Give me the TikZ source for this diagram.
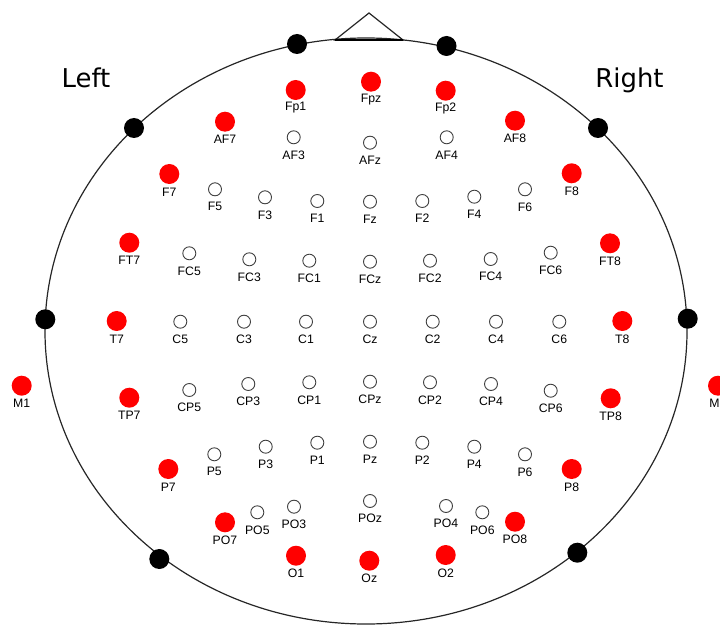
\documentclass[tikz,border=0pt]{standalone}
\usepackage{fontspec}
\setmainfont{Liberation Sans}
\newfontfamily\sidefont{DejaVu Sans}
\begin{document}
\begin{tikzpicture}[x=1bp,y=-1bp,
  redel/.style={circle,fill=red,minimum size=20bp,inner sep=0},
  blkel/.style={circle,fill=black,minimum size=20bp,inner sep=0},
  openel/.style={circle,draw=black!75,line width=0.9bp,fill=white,minimum size=13bp,inner sep=0},
  lbl/.style={font=\fontsize{12.3}{12.3}\selectfont,inner sep=0,text=black},
  side/.style={font=\sidefont\fontsize{26}{26}\selectfont,inner sep=0,anchor=base},
  headline/.style={draw=black!85,line width=1.2bp}]
\useasboundingbox (0,0) rectangle (720,626);
\clip (0,0) rectangle (720,626);
% head and nose
\draw[headline] (366,331) ellipse [x radius=321bp, y radius=293bp];
\draw[headline,line join=miter] (335,40) -- (369,13) -- (403,40) -- cycle;
\draw[draw=black,line width=1.8bp] (335,40) -- (403,40);
% side labels
\node[side] (left) at (86,88) {Left};
\node[side] (right) at (629.5,88) {Right};
% black reference dots on the outline
\foreach \n/\x/\y in {b1/297/44, b2/446.5/46, b3/134/128, b4/598/128,
  b5/45.3/319.3, b6/687.7/318.7, b7/159.3/559, b8/577.3/552.7}
  \node[blkel] (\n) at (\x,\y) {};
% red electrodes
\foreach \n/\x/\y in {Fp1/295.7/90, Fpz/371/81.7, Fp2/445.7/90.7,
  AF7/225/121.7, AF8/515/120.7, F7/169.3/174, F8/571.7/173.3,
  FT7/129.3/242.7, FT8/610/243.3, T7/116.7/321, T8/622.3/321,
  M1/21.7/385.7, M2/718/385.7, TP7/129.3/397.7, TP8/610.7/398.3,
  P7/168.3/469, P8/571.7/469, PO7/225/522.3, PO8/515/521.7,
  O1/296/555.7, Oz/369.3/560.7, O2/445.7/555}
{
  \node[redel] (e\n) at (\x,\y) {};
  \node[lbl] (l\n) at (\x,\y+18) {\n};
}
% open electrodes
\foreach \n/\x/\y in {AF3/293.7/137.3, AFz/370/142.7, AF4/446.7/137.3,
  F5/215/189.3, F3/265/197.3, F1/317.3/201, Fz/370/201.7, F2/422.3/201, F4/474.3/196.7, F6/525/189.3,
  FC5/189.3/253.3, FC3/249.3/259.3, FC1/309.3/260.7, FCz/370/261.7, FC2/430/260.7, FC4/490.7/259, FC6/550.7/252.7,
  C5/180.3/321.7, C3/244/321.7, C1/306/321.7, Cz/370/321.7, C2/432.7/321.7, C4/496/321.7, C6/559.3/321.7,
  CP5/189.3/390, CP3/248.3/384, CP1/309.3/382.3, CPz/370/381.7, CP2/430/382.3, CP4/491/384, CP6/550.7/390.7,
  P5/214.3/454.3, P3/265.7/446.7, P1/317.3/442.7, Pz/370/441.7, P2/422.3/442.7, P4/474.3/446.7, P6/525/454.3,
  PO5/257.3/512.3, PO3/294/506.7, POz/370/501, PO4/446/506, PO6/482.3/512.3}
{
  \node[openel] (e\n) at (\x,\y) {};
  \node[lbl] (l\n) at (\x,\y+17.5) {\n};
}
\end{tikzpicture}
\end{document}
